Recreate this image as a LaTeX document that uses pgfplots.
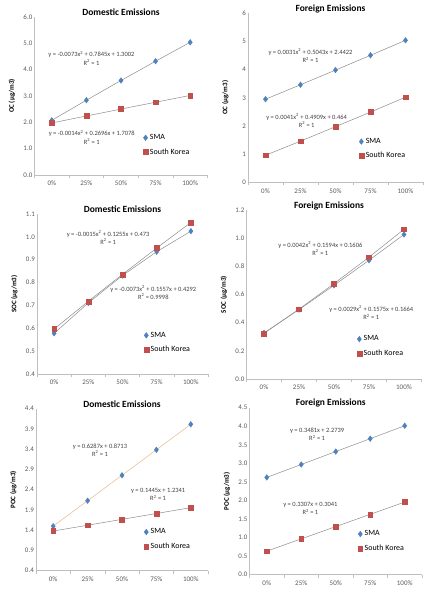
\documentclass[border=0pt]{standalone}
\usepackage{pgfplots}
\pgfplotsset{compat=1.18}
\usepackage{fontspec}
\setmainfont{Carlito}
\definecolor{smablue}{HTML}{4F81BD}
\definecolor{skred}{HTML}{C0504D}
\definecolor{axgray}{HTML}{BFBFBF}
\definecolor{tickgray}{HTML}{595959}
\definecolor{eqgray}{HTML}{404040}
\definecolor{trendgray}{HTML}{8C8C8C}
\definecolor{trendtan}{HTML}{E8B888}
\newcommand\tickfont{\fontsize{7}{8}\selectfont}
\newcommand\legfont{\fontsize{8}{9}\selectfont}
\newcommand\eqfont{\fontsize{6.5}{8.3}\selectfont}
\newcommand\titlefont{\fontsize{9.5}{11}\selectfont\bfseries}
\pgfplotsset{
  panel/.style={
    scale only axis, anchor=south west,
    axis x line*=bottom, axis y line*=left,
    axis line style={draw=axgray, line width=0.6bp, -},
    xmin=-0.5, xmax=4.5,
    xtick={0,1,2,3,4}, xticklabels={0\%,25\%,50\%,75\%,100\%},
    minor xtick={-0.5,0.5,1.5,2.5,3.5,4.5},
    major tick length=0bp, minor tick length=3bp, tick align=outside,
    major tick style={draw=none},
    minor tick style={draw=axgray, line width=0.5bp},
    /pgf/number format/assume math mode=true,
    ticklabel style={font=\tickfont, text=tickgray},
    xticklabel style={inner sep=0pt, yshift=-6bp},
    yticklabel style={inner sep=0pt, xshift=-2bp},
    ylabel style={font=\tickfont\bfseries, text=black, at={(axis description cs:0,0.5)}, anchor=center, yshift=22.5bp},
    title style={font=\titlefont, at={(axis description cs:0.5,1)}, anchor=center, yshift=-1.5bp},
    legend style={draw=none, fill=none, font=\legfont, inner sep=0pt, row sep=3.5bp, cells={anchor=west}, anchor=west},
    legend image code/.code={\draw[mark repeat=2,mark phase=2,##1] plot coordinates {(0bp,0bp) (3bp,0bp) (6bp,0bp)};},
    clip=false,
  },
  smamark/.style={only marks, mark=diamond*, mark size=2.8bp, color=smablue},
  skmark/.style={only marks, mark=square*, mark size=2.4bp, color=skred},
  trend/.style={forget plot, no marks, line width=0.5bp, color=trendgray},
  onedec/.style={yticklabel style={/pgf/number format/.cd, fixed, fixed zerofill, precision=1}},
}
\begin{document}
\begin{tikzpicture}
\useasboundingbox (0,0) rectangle (428bp,593bp);
% ---------- Panel 1: OC domestic
\begin{axis}[panel, onedec, at={(34.5bp,418bp)}, width=173bp, height=158bp,
  ymin=0, ymax=6, ytick={0,1,2,3,4,5,6},
  ylabel={OC (µg/m3)}, title={Domestic Emissions},
  legend style={at={(0.627,0.19)}}]
\addplot[trend] coordinates {(0,2.077) (1,2.840) (2,3.588) (3,4.321) (4,5.040)};
\addplot[trend] coordinates {(0,1.976) (1,2.241) (2,2.504) (3,2.764) (4,3.021)};
\addplot[smamark] coordinates {(0,2.077) (1,2.840) (2,3.588) (3,4.321) (4,5.040)};
\addplot[skmark] coordinates {(0,1.976) (1,2.241) (2,2.504) (3,2.764) (4,3.021)};
\legend{SMA,South Korea}
\node[font=\eqfont, text=eqgray, align=center] at (axis description cs:0.329,0.739) {y = -0.0073x\textsuperscript{2} + 0.7845x + 1.3002\\R\textsuperscript{2} = 1};
\node[font=\eqfont, text=eqgray, align=center] at (axis description cs:0.331,0.239) {y = -0.0014x\textsuperscript{2} + 0.2696x + 1.7078\\R\textsuperscript{2} = 1};
\end{axis}
% ---------- Panel 2: OC foreign
\begin{axis}[panel, at={(248bp,410.7bp)}, width=175bp, height=169bp,
  ymin=0, ymax=6, ytick={0,1,2,3,4,5,6},
  ylabel={OC (µg/m3)}, title={Foreign Emissions}, title style={xshift=-5bp},
  legend style={at={(0.633,0.198)}}]
\addplot[trend] coordinates {(0,2.950) (1,3.463) (2,3.983) (3,4.509) (4,5.041)};
\addplot[trend] coordinates {(0,0.959) (1,1.462) (2,1.974) (3,2.493) (4,3.021)};
\addplot[smamark] coordinates {(0,2.950) (1,3.463) (2,3.983) (3,4.509) (4,5.041)};
\addplot[skmark] coordinates {(0,0.959) (1,1.462) (2,1.974) (3,2.493) (4,3.021)};
\legend{SMA,South Korea}
\node[font=\eqfont, text=eqgray, align=center] at (axis description cs:0.357,0.749) {y = 0.0031x\textsuperscript{2} + 0.5043x + 2.4422\\R\textsuperscript{2} = 1};
\node[font=\eqfont, text=eqgray, align=center] at (axis description cs:0.335,0.366) {y = 0.0041x\textsuperscript{2} + 0.4909x + 0.464\\R\textsuperscript{2} = 1};
\end{axis}
% ---------- Panel 3: SOC domestic
\begin{axis}[panel, onedec, at={(37bp,219bp)}, width=171bp, height=160bp,
  ymin=0.4, ymax=1.1, ytick={0.4,0.5,0.6,0.7,0.8,0.9,1.0,1.1},
  ylabel={SOC (µg/m3)}, title={Domestic Emissions},
  legend style={at={(0.624,0.196)}}]
\addplot[trend] coordinates {(0,0.578) (1,0.711) (2,0.831) (3,0.935) (4,1.025)};
\addplot[trend] coordinates {(0,0.597) (1,0.718) (2,0.836) (3,0.951) (4,1.063)};
\addplot[smamark] coordinates {(0,0.578) (1,0.711) (2,0.831) (3,0.935) (4,1.025)};
\addplot[skmark] coordinates {(0,0.597) (1,0.718) (2,0.836) (3,0.951) (4,1.063)};
\legend{SMA,South Korea}
\node[font=\eqfont, text=eqgray, align=center] at (axis description cs:0.416,0.853) {y = -0.0015x\textsuperscript{2} + 0.1255x + 0.473\\R\textsuperscript{2} = 1};
\node[font=\eqfont, text=eqgray, align=center] at (axis description cs:0.680,0.509) {y = -0.0073x\textsuperscript{2} + 0.1557x + 0.4292\\R\textsuperscript{2} = 0.9998};
\end{axis}
% ---------- Panel 4: SOC foreign
\begin{axis}[panel, onedec, at={(246.5bp,214bp)}, width=175bp, height=169bp,
  ymin=0, ymax=1.2, ytick={0,0.2,0.4,0.6,0.8,1.0,1.2},
  ylabel={SOC (µg/m3)}, title={Foreign Emissions}, title style={xshift=-5bp},
  legend style={at={(0.63,0.193)}}]
\addplot[trend] coordinates {(0,0.327) (1,0.493) (2,0.665) (3,0.843) (4,1.026)};
\addplot[trend] coordinates {(0,0.324) (1,0.496) (2,0.677) (3,0.865) (4,1.063)};
\addplot[smamark] coordinates {(0,0.327) (1,0.493) (2,0.665) (3,0.843) (4,1.026)};
\addplot[skmark] coordinates {(0,0.324) (1,0.496) (2,0.677) (3,0.865) (4,1.063)};
\legend{SMA,South Korea}
\node[font=\eqfont, text=eqgray, align=center] at (axis description cs:0.422,0.772) {y = 0.0042x\textsuperscript{2} + 0.1594x + 0.1606\\R\textsuperscript{2} = 1};
\node[font=\eqfont, text=eqgray, align=center] at (axis description cs:0.713,0.392) {y = 0.0029x\textsuperscript{2} + 0.1575x + 0.1664\\R\textsuperscript{2} = 1};
\end{axis}
% ---------- Panel 5: POC domestic
\begin{axis}[panel, onedec, at={(36bp,22.3bp)}, width=172bp, height=162bp,
  ymin=0.4, ymax=4.4, ytick={0.4,0.9,1.4,1.9,2.4,2.9,3.4,3.9,4.4},
  ylabel={POC (µg/m3)}, title={Domestic Emissions},
  legend style={at={(0.626,0.194)}}]
\addplot[trend, color=trendtan] coordinates {(0,1.500) (1,2.129) (2,2.757) (3,3.386) (4,4.015)};
\addplot[trend] coordinates {(0,1.379) (1,1.523) (2,1.668) (3,1.812) (4,1.957)};
\addplot[smamark] coordinates {(0,1.500) (1,2.129) (2,2.757) (3,3.386) (4,4.015)};
\addplot[skmark] coordinates {(0,1.379) (1,1.523) (2,1.668) (3,1.812) (4,1.957)};
\legend{SMA,South Korea}
\node[font=\eqfont, text=eqgray, align=center] at (axis description cs:0.372,0.745) {y = 0.6287x + 0.8713\\R\textsuperscript{2} = 1};
\node[font=\eqfont, text=eqgray, align=center] at (axis description cs:0.710,0.470) {y = 0.1445x + 1.2341\\R\textsuperscript{2} = 1};
\end{axis}
% ---------- Panel 6: POC foreign
\begin{axis}[panel, onedec, at={(249.5bp,18.3bp)}, width=172.5bp, height=167bp,
  ymin=0, ymax=4.5, ytick={0,0.5,1.0,1.5,2.0,2.5,3.0,3.5,4.0,4.5},
  ylabel={POC (µg/m3)}, title={Foreign Emissions}, title style={xshift=-5bp},
  legend style={at={(0.627,0.2)}}]
\addplot[trend] coordinates {(0,2.622) (1,2.970) (2,3.318) (3,3.666) (4,4.014)};
\addplot[trend] coordinates {(0,0.635) (1,0.966) (2,1.296) (3,1.627) (4,1.958)};
\addplot[smamark] coordinates {(0,2.622) (1,2.970) (2,3.318) (3,3.666) (4,4.014)};
\addplot[skmark] coordinates {(0,0.635) (1,0.966) (2,1.296) (3,1.627) (4,1.958)};
\legend{SMA,South Korea}
\node[font=\eqfont, text=eqgray, align=center] at (axis description cs:0.392,0.841) {y = 0.3481x + 2.2739\\R\textsuperscript{2} = 1};
\node[font=\eqfont, text=eqgray, align=center] at (axis description cs:0.353,0.395) {y = 0.3307x + 0.3041\\R\textsuperscript{2} = 1};
\end{axis}
\end{tikzpicture}
\end{document}
